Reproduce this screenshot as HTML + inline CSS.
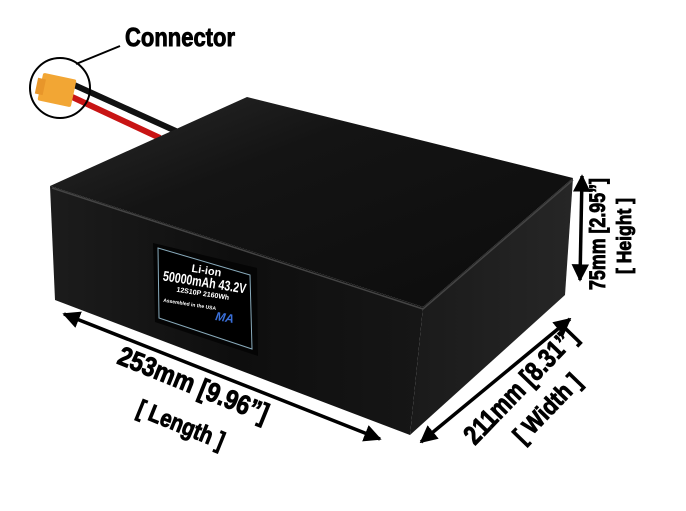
<!DOCTYPE html>
<html><head><meta charset="utf-8"><style>
html,body{margin:0;padding:0;background:#fff;width:686px;height:511px;overflow:hidden}
svg{display:block}
text{font-family:"Liberation Sans Narrow","Liberation Sans",sans-serif;font-weight:bold;fill:#000}
.b{stroke:#000;stroke-width:0.9}
</style></head><body>
<svg width="686" height="511" viewBox="0 0 686 511" xmlns="http://www.w3.org/2000/svg">
<defs>
<linearGradient id="top" x1="0" y1="0" x2="1" y2="1">
<stop offset="0" stop-color="#2a2a2a"/><stop offset="0.35" stop-color="#141414"/><stop offset="1" stop-color="#0c0c0c"/>
</linearGradient>
<linearGradient id="front" x1="0" y1="0" x2="1" y2="0">
<stop offset="0" stop-color="#1c1c1c"/><stop offset="0.5" stop-color="#0e0e0e"/><stop offset="1" stop-color="#161616"/>
</linearGradient>
<linearGradient id="right" x1="0" y1="0" x2="1" y2="0">
<stop offset="0" stop-color="#1a1a1a"/><stop offset="1" stop-color="#262626"/>
</linearGradient>
<marker id="ah" viewBox="0 0 10 10" refX="9" refY="5" markerWidth="5" markerHeight="5" orient="auto-start-reverse">
<path d="M0,0 L10,5 L0,10 z" fill="#000"/></marker>
</defs>

<path d="M72,84 L178,132" stroke="#111" stroke-width="6"/>
<path d="M70,96 L160,138" stroke="#c81414" stroke-width="6"/>
<path d="M74,91 L168,135" stroke="#fff" stroke-width="2"/>
<rect x="40" y="76" width="34" height="28" rx="2" fill="#f2a634" transform="rotate(12 57 90)"/>
<rect x="36" y="82" width="8" height="16" fill="#e8962a" transform="rotate(12 57 90)"/>
<circle cx="60" cy="88" r="30" fill="none" stroke="#000" stroke-width="2"/>
<line x1="76" y1="64" x2="120" y2="46" stroke="#000" stroke-width="2"/>
<text class="b" x="125" y="46" font-size="26" textLength="110" lengthAdjust="spacingAndGlyphs">Connector</text>

<polygon points="50,186 247,97 573,178 423,307" fill="url(#top)"/>
<polygon points="50,186 423,307 410,435 55,300" fill="url(#front)"/>
<polygon points="423,307 573,178 565,295 410,435" fill="url(#right)"/>
<polyline points="52,188 423,309 573,180" fill="none" stroke="#444" stroke-width="1.5"/>

<polygon points="153,243 257,268 258,356 155,322" fill="#050505"/>
<polygon points="158,248 250,275 252,349 159,318" fill="#000" stroke="#8ab" stroke-width="1"/>
<g transform="translate(205,280) rotate(9)">
<text x="0" y="-6" font-size="11" style="fill:#fff" text-anchor="middle">Li-ion</text>
<text x="0" y="7" font-size="14" style="fill:#fff" text-anchor="middle" textLength="84" lengthAdjust="spacingAndGlyphs">50000mAh 43.2V</text>
<text x="0" y="16" font-size="7" style="fill:#fff" text-anchor="middle">12S10P 2160Wh</text>
<text x="-38" y="28" font-size="5" style="fill:#fff">Assembled in the USA</text>
<text x="16" y="38" font-size="12" style="fill:#3a6fd8;font-style:italic">MA</text>
</g>

<line x1="64" y1="314" x2="380" y2="439" stroke="#000" stroke-width="3.5" marker-start="url(#ah)" marker-end="url(#ah)"/>
<line x1="421" y1="442" x2="570" y2="319" stroke="#000" stroke-width="3.5" marker-start="url(#ah)" marker-end="url(#ah)"/>
<line x1="582" y1="176" x2="580" y2="280" stroke="#000" stroke-width="3.5" marker-start="url(#ah)" marker-end="url(#ah)"/>

<g transform="translate(190,393) rotate(22)">
<text class="b" x="0" y="0" font-size="27" text-anchor="middle" textLength="160" lengthAdjust="spacingAndGlyphs">253mm  [9.96”]</text>
</g>
<g transform="translate(178,432) rotate(22)">
<text class="b" x="0" y="0" font-size="24" text-anchor="middle" textLength="92" lengthAdjust="spacingAndGlyphs">[ Length ]</text>
</g>
<g transform="translate(527,392) rotate(-46)">
<text class="b" x="0" y="0" font-size="27" text-anchor="middle" textLength="150" lengthAdjust="spacingAndGlyphs">211mm [8.31”]</text>
</g>
<g transform="translate(553,414) rotate(-46)">
<text class="b" x="0" y="0" font-size="24" text-anchor="middle" textLength="86" lengthAdjust="spacingAndGlyphs">[ Width ]</text>
</g>
<g transform="translate(605,234) rotate(-90)">
<text class="b" x="0" y="0" font-size="22" text-anchor="middle" textLength="112" lengthAdjust="spacingAndGlyphs">75mm [2.95”]</text>
</g>
<g transform="translate(631,236) rotate(-90)">
<text class="b" x="0" y="0" font-size="20" text-anchor="middle" textLength="76" lengthAdjust="spacingAndGlyphs">[ Height ]</text>
</g>
</svg>
</body></html>
